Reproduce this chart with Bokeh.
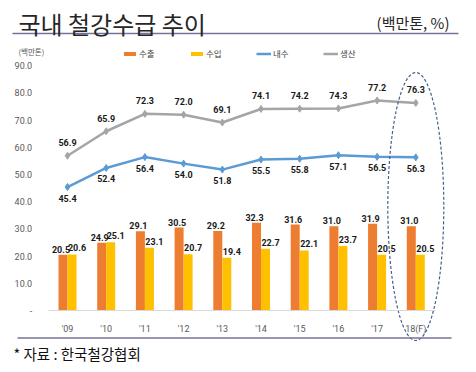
from bokeh.plotting import figure
from bokeh.models import (Legend, LegendItem, FixedTicker, Label, LinearAxis,
                          Range1d, NumeralTickFormatter, ColumnDataSource)
from bokeh.core.properties import value
from bokeh.embed import file_html
from bokeh.resources import INLINE

# ---------------- data ----------------
years = ["'09", "'10", "'11", "'12", "'13", "'14", "'15", "'16", "'17", "18(F)"]
exports = [20.5, 24.9, 29.1, 30.5, 29.2, 32.3, 31.6, 31.0, 31.9, 31.0]      # 수출
imports = [20.6, 25.1, 23.1, 20.7, 19.4, 22.7, 22.1, 23.7, 20.5, 20.5]      # 수입
domestic = [45.4, 52.4, 56.4, 54.0, 51.8, 55.5, 55.8, 57.1, 56.5, 56.3]     # 내수
production = [56.9, 65.9, 72.3, 72.0, 69.1, 74.1, 74.2, 74.3, 77.2, 76.3]   # 생산
y_ticks = [0, 10, 20, 30, 40, 50, 60, 70, 80, 90]
series_names = ["수출", "수입", "내수", "생산"]

# ---------------- layout helpers (pixel -> data mapping) ----------------
X0_PX, X_STEP = 67.0, 38.7      # image x of first category, px per category
Y0_PX, Y_STEP = 310.0, 2.72     # image y of value 0, px per unit


def dx(ix):
    return (ix - X0_PX) / X_STEP


def dy(iy):
    return (Y0_PX - iy) / Y_STEP


W, H = 476, 372
xs = list(range(len(years)))
bw = 9.0 / X_STEP

p = figure(width=W, height=H, output_backend="svg", toolbar_location=None,
           x_axis_type=None, y_axis_type=None, min_border=0,
           x_range=Range1d(dx(0), dx(W)), y_range=Range1d(dy(H), dy(0)))
p.outline_line_color = None
p.background_fill_color = "white"

NUM = value("Roboto")

src = ColumnDataSource(dict(
    x=xs,
    xe=[x - bw / 2 for x in xs],
    xi=[x + bw / 2 for x in xs],
    exp=exports, imp=imports, dom=domestic, prod=production,
    exp_t=[f"{v:.1f}" for v in exports],
    imp_t=[f"{v:.1f}" for v in imports],
    dom_t=[f"{v:.1f}" for v in domestic],
    prod_t=[f"{v:.1f}" for v in production],
))

# axes (drawn inside the frame)
xaxis = LinearAxis(fixed_location=0, ticker=FixedTicker(ticks=xs),
                   major_label_overrides={i: t for i, t in enumerate(years)},
                   bounds=(-0.5, len(years) - 0.5))
xaxis.axis_line_color = "#D9D9D9"
xaxis.axis_line_width = 1
xaxis.major_tick_line_color = None
xaxis.minor_tick_line_color = None
xaxis.major_label_text_font = "Roboto"
xaxis.major_label_text_font_size = "9px"
xaxis.major_label_text_color = "#595959"
xaxis.major_label_standoff = 7
p.add_layout(xaxis, "below")

yaxis = LinearAxis(fixed_location=-0.5, ticker=FixedTicker(ticks=y_ticks),
                   formatter=NumeralTickFormatter(format="0.0"),
                   major_label_overrides={0: "-"}, bounds=(0, 90))
yaxis.axis_line_color = None
yaxis.major_tick_line_color = None
yaxis.minor_tick_line_color = None
yaxis.major_label_text_font = "Roboto"
yaxis.major_label_text_font_size = "9px"
yaxis.major_label_text_color = "#595959"
yaxis.major_label_standoff = 10
p.add_layout(yaxis, "left")

# bars
r_exp = p.vbar(x="xe", top="exp", width=bw, source=src, fill_color="#ED7D31", line_color=None)
r_imp = p.vbar(x="xi", top="imp", width=bw, source=src, fill_color="#FFC000", line_color=None)

# lines
r_prod_l = p.line("x", "prod", source=src, line_color="#A5A5A5", line_width=2.5)
r_prod_m = p.scatter("x", "prod", source=src, marker="diamond", size=7, color="#A5A5A5")
r_dom_l = p.line("x", "dom", source=src, line_color="#5B9BD5", line_width=2.5)
r_dom_m = p.scatter("x", "dom", source=src, marker="diamond", size=7, color="#5B9BD5")

# data labels
lab = dict(source=src, text_font=NUM, text_font_style="bold", text_font_size="9px",
           text_color="#1a1a1a", text_align="center")
p.text(x="xe", y="exp", text="exp_t", text_baseline="bottom", y_offset=-2, x_offset=-2, **lab)
p.text(x="xi", y="imp", text="imp_t", text_baseline="bottom", y_offset=-3, x_offset=5, **lab)
p.text(x="x", y="prod", text="prod_t", text_baseline="middle", y_offset=-13, **lab)
p.text(x="x", y="dom", text="dom_t", text_baseline="middle", y_offset=11, **lab)

# dashed ellipse around forecast year
p.ellipse(x=[xs[-1]], y=[dy(206)], width=56 / X_STEP, height=268 / Y_STEP,
          fill_color=None, line_color="#44618A", line_dash="3 2", line_width=1.2)

# header / footer rules
p.segment(x0=[dx(12)], y0=[dy(33)], x1=[dx(458)], y1=[dy(33)], line_color="#76709A", line_width=1.5)
p.segment(x0=[dx(17)], y0=[dy(337.5)], x1=[dx(451)], y1=[dy(337.5)], line_color="#76709A", line_width=1.5)

# texts
p.add_layout(Label(x=dx(18), y=dy(23), text="국내 철강수급 추이", text_font="Noto Sans CJK KR",
                   text_font_size="24px", text_color="#262626", text_baseline="middle"))
p.add_layout(Label(x=dx(449), y=dy(22), text="(백만톤, %)", text_font="Noto Sans CJK KR",
                   text_font_size="15px", text_color="#262626", text_baseline="middle",
                   text_align="right"))
p.add_layout(Label(x=dx(18), y=dy(51), text="(백만톤)", text_font="Noto Sans CJK KR",
                   text_font_size="7.5px", text_color="#595959", text_baseline="middle"))
p.add_layout(Label(x=dx(13), y=dy(353), text="* 자료 : 한국철강협회", text_font="Noto Sans CJK KR",
                   text_font_size="14.5px", text_color="#111111", text_baseline="middle"))

# legend
legend = Legend(items=[
    LegendItem(label=series_names[0], renderers=[r_exp]),
    LegendItem(label=series_names[1], renderers=[r_imp]),
    LegendItem(label=series_names[2], renderers=[r_dom_l, r_dom_m]),
    LegendItem(label=series_names[3], renderers=[r_prod_l, r_prod_m]),
], orientation="horizontal", location=(122, 313))
legend.border_line_color = None
legend.background_fill_alpha = 0
legend.padding = 0
legend.margin = 0
legend.spacing = 30
legend.glyph_width = 15
legend.glyph_height = 5
legend.label_standoff = 2
legend.label_height = 10
legend.label_text_font = "Noto Sans CJK KR"
legend.label_text_font_size = "8.5px"
legend.label_text_color = "#404040"
p.add_layout(legend)

open("out.html", "w").write(file_html(p, INLINE))
